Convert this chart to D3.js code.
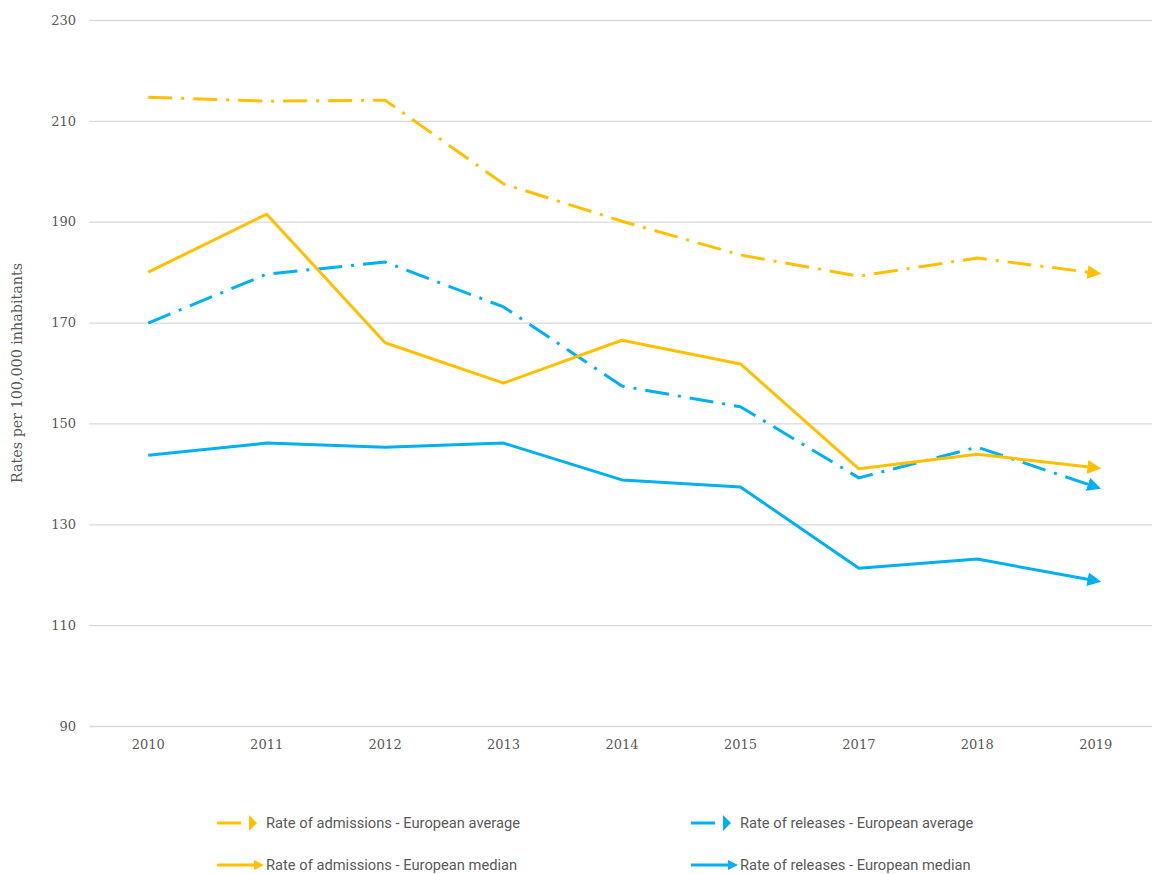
<!DOCTYPE html>
<html>
<head>
<meta charset="utf-8">
<script src="https://cdnjs.cloudflare.com/ajax/libs/d3/7.8.5/d3.min.js"></script>
<style>
    body { margin: 0; background: #fff; }
    .tick text, .ylabel { font-family: "DejaVu Serif", "Liberation Serif", serif; fill: #595959; }
    .legend text { font-family: "Liberation Sans Narrow", "Roboto", "Liberation Sans", sans-serif; fill: #595959; }
</style>
</head>
<body>
<script>
var years = ["2010", "2011", "2012", "2013", "2014", "2015", "2017", "2018", "2019"];
var admissionsAvg = [214.7, 213.9, 214.1, 197.5, 190.1, 183.4, 179.2, 182.8, 179.8];
var releasesAvg = [169.9, 179.6, 182.0, 173.1, 157.4, 153.3, 139.2, 145.3, 137.4];
var admissionsMed = [180.0, 191.5, 166.0, 158.0, 166.5, 161.8, 141.0, 143.9, 141.2];
var releasesMed = [143.7, 146.1, 145.3, 146.1, 138.8, 137.4, 121.3, 123.1, 118.8];
var yTicks = [90, 110, 130, 150, 170, 190, 210, 230];

var w = 1152;
var h = 874;
var yellow = "#FFC000";
var blue = "#00B0F0";
var dashDot = "24,9,3,9";

var series = [
    {name: "Rate of admissions - European average", values: admissionsAvg, color: yellow, dash: dashDot, id: "ya"},
    {name: "Rate of releases - European average", values: releasesAvg, color: blue, dash: dashDot, id: "ba"},
    {name: "Rate of admissions - European median", values: admissionsMed, color: yellow, dash: null, id: "ym"},
    {name: "Rate of releases - European median", values: releasesMed, color: blue, dash: null, id: "bm"}
];

var svg = d3.select("body").append("svg")
    .attr("width", w)
    .attr("height", h);

// arrow heads
var defs = svg.append("defs");
series.forEach(function (s) {
    defs.append("marker")
        .attr("id", "arrow-" + s.id)
        .attr("viewBox", "0 0 10 10")
        .attr("refX", 6)
        .attr("refY", 5)
        .attr("markerWidth", 4.6)
        .attr("markerHeight", 5)
        .attr("markerUnits", "strokeWidth")
        .attr("orient", "auto")
        .append("path")
        .attr("d", "M0,0 L10,5 L0,10 Z")
        .attr("fill", s.color);
});

var xScale = d3.scaleBand()
    .domain(years)
    .range([89, 1155]);

var yScale = d3.scaleLinear()
    .domain([90, 230])
    .range([726, 20]);

// gridlines + y labels
var yAxis = d3.axisLeft(yScale)
    .tickValues(yTicks)
    .tickSize(-(1152 - 89))
    .tickPadding(13);

svg.append("g")
    .attr("class", "axisy")
    .attr("transform", "translate(89,0)")
    .call(yAxis)
    .call(function (g) {
        g.select(".domain").remove();
        g.selectAll(".tick line").attr("stroke", "#d9d9d9").attr("stroke-width", 1.3);
        g.selectAll(".tick text").attr("font-size", 13);
    });

var xAxis = d3.axisBottom(xScale)
    .tickSize(0)
    .tickPadding(14);

svg.append("g")
    .attr("class", "axis")
    .attr("transform", "translate(0,726)")
    .call(xAxis)
    .call(function (g) {
        g.select(".domain").remove();
        g.selectAll(".tick text").attr("font-size", 13);
    });

svg.append("text")
    .attr("class", "ylabel")
    .attr("transform", "translate(22,373) rotate(-90)")
    .attr("text-anchor", "middle")
    .attr("font-size", 14.3)
    .text("Rates per 100,000 inhabitants");

var line = d3.line()
    .x(function (d, i) { return xScale(years[i]) + xScale.bandwidth() / 2; })
    .y(function (d) { return yScale(d); });

series.forEach(function (s) {
    svg.append("path")
        .datum(s.values)
        .attr("d", line)
        .attr("fill", "none")
        .attr("stroke", s.color)
        .attr("stroke-width", 3)
        .attr("stroke-linejoin", "round")
        .attr("stroke-dasharray", s.dash)
        .attr("marker-end", "url(#arrow-" + s.id + ")");
});

// legend
var legendPos = [[217, 823], [691, 823], [217, 865], [691, 865]];
var legend = svg.append("g").attr("class", "legend");
series.forEach(function (s, i) {
    var p = legendPos[i];
    var g = legend.append("g").attr("transform", "translate(" + p[0] + "," + p[1] + ")");
    g.append("line")
        .attr("x1", 0).attr("x2", s.dash ? 24 : 40)
        .attr("y1", 0).attr("y2", 0)
        .attr("stroke", s.color)
        .attr("stroke-width", 3);
    if (s.dash) {
        g.append("path")
            .attr("d", "M32,-8 L40,0 L32,8 Z")
            .attr("fill", s.color);
    } else {
        g.append("path")
            .attr("d", "M37,-5 L47,0 L37,5 Z")
            .attr("fill", s.color);
    }
    g.append("text")
        .attr("x", 49)
        .attr("y", 5)
        .attr("font-size", 14.7)
        .text(s.name);
});
</script>
</body>
</html>
